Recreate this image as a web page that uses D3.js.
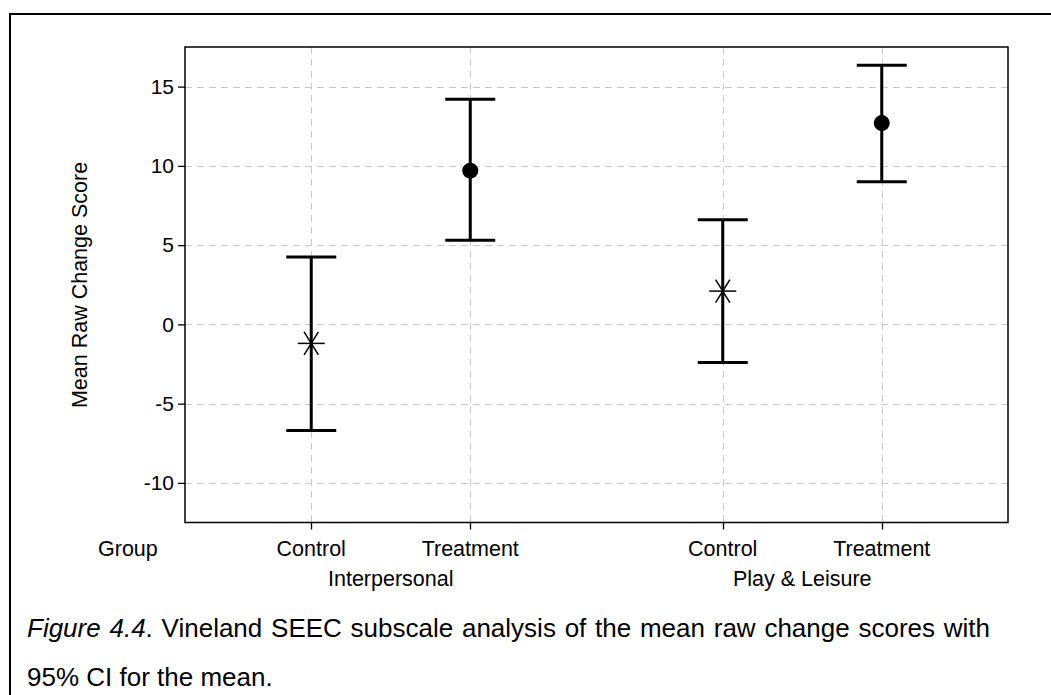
<!DOCTYPE html>
<html>
<head>
<meta charset="utf-8">
<script src="https://cdn.jsdelivr.net/npm/d3@7"></script>
<style>
  html, body { margin: 0; padding: 0; background: #fff; }
  svg { display: block; font-family: "Liberation Sans", Arial, sans-serif; }
</style>
</head>
<body>
<svg id="chart" width="1051" height="695"></svg>
<script>
const subscales = ["Interpersonal", "Play & Leisure"];
const groups = ["Control", "Treatment"];
const means = [-1.2, 9.7, 2.1, 12.7];
const lowers = [-6.7, 5.3, -2.4, 9.0];
const uppers = [4.25, 14.2, 6.6, 16.35];
const yTicks = [-10, -5, 0, 5, 10, 15];
const yTitle = "Mean Raw Change Score";
const xTitle = "Group";
const captionItalic = "Figure 4.4";
const captionLine1 = ". Vineland SEEC subscale analysis of the mean raw change scores with";
const captionLine2 = "95% CI for the mean.";

const data = means.map((m, i) => ({
  subscale: subscales[Math.floor(i / groups.length)],
  group: groups[i % groups.length],
  mean: m, lower: lowers[i], upper: uppers[i]
}));

const svg = d3.select("#chart");
const pL = 185, pR = 1008, pT = 47, pB = 522.5;
const labelSize = 21.5, tickSize = 21;

// outer frame (top and left edges)
svg.append("line").attr("x1", 10).attr("x2", 1051).attr("y1", 14).attr("y2", 14)
  .attr("stroke", "#000").attr("stroke-width", 2);
svg.append("line").attr("x1", 10).attr("x2", 10).attr("y1", 13).attr("y2", 695)
  .attr("stroke", "#000").attr("stroke-width", 2);

const y = d3.scaleLinear().domain([-12.5, 17.5]).range([pB, pT]);
const xOuter = d3.scaleBand().domain(subscales).range([pL, pR]).paddingInner(0).paddingOuter(0);
const xInner = d3.scalePoint().domain(groups).range([0, xOuter.bandwidth()]).padding(0.794);
const xPos = d => xOuter(d.subscale) + xInner(d.group);

// grid
const grid = svg.append("g");
grid.selectAll(".hg").data(yTicks).join("line")
  .attr("x1", pL).attr("x2", pR)
  .attr("y1", d => Math.round(y(d)) + 0.5).attr("y2", d => Math.round(y(d)) + 0.5)
  .attr("stroke", "#c8c8c8").attr("stroke-width", 1).attr("stroke-dasharray", "7,5");
grid.selectAll(".vg").data(data).join("line")
  .attr("x1", d => Math.round(xPos(d)) + 0.5).attr("x2", d => Math.round(xPos(d)) + 0.5)
  .attr("y1", pT).attr("y2", pB)
  .attr("stroke", "#c8c8c8").attr("stroke-width", 1).attr("stroke-dasharray", "7,5");

// plot frame
svg.append("rect").attr("x", pL).attr("y", pT).attr("width", pR - pL).attr("height", pB - pT)
  .attr("fill", "none").attr("stroke", "#000").attr("stroke-width", 1.5);

// y axis
const yAxis = d3.axisLeft(y).tickValues(yTicks).tickSize(7).tickPadding(4).tickFormat(d3.format("d"));
const gy = svg.append("g").attr("transform", `translate(${pL},0)`).call(yAxis);
gy.select(".domain").remove();
gy.selectAll("line").attr("stroke-width", 1.3);
gy.selectAll("text").attr("font-size", tickSize).attr("fill", "#000")
  .attr("font-family", "Liberation Sans, Arial, sans-serif").text(d => d < 0 ? "-" + Math.abs(d) : d);

// x ticks
const gx = svg.append("g");
gx.selectAll("line").data(data).join("line")
  .attr("x1", d => Math.round(xPos(d)) + 0.5).attr("x2", d => Math.round(xPos(d)) + 0.5)
  .attr("y1", pB).attr("y2", pB + 7).attr("stroke", "#000").attr("stroke-width", 1.3);
gx.selectAll("text.cat").data(data).join("text").attr("class", "cat")
  .attr("x", d => xPos(d)).attr("y", 556).attr("text-anchor", "middle")
  .attr("font-size", labelSize).text(d => d.group);
gx.selectAll("text.sub").data(subscales).join("text").attr("class", "sub")
  .attr("x", d => xOuter(d) + xOuter.bandwidth() / 2).attr("y", 586).attr("text-anchor", "middle")
  .attr("font-size", labelSize).text(d => d);
svg.append("text").attr("x", 98).attr("y", 556).attr("font-size", labelSize).text(xTitle);

// y title
svg.append("text").attr("transform", "translate(87,285) rotate(-90)")
  .attr("text-anchor", "middle").attr("font-size", labelSize).text(yTitle);

// error bars
const eb = svg.append("g");
const capW = 25;
eb.selectAll(".v").data(data).join("line")
  .attr("x1", d => xPos(d)).attr("x2", d => xPos(d))
  .attr("y1", d => y(d.lower)).attr("y2", d => y(d.upper))
  .attr("stroke", "#000").attr("stroke-width", 3);
["lower", "upper"].forEach(k => {
  eb.selectAll(".c" + k).data(data).join("line")
    .attr("x1", d => xPos(d) - capW).attr("x2", d => xPos(d) + capW)
    .attr("y1", d => y(d[k])).attr("y2", d => y(d[k]))
    .attr("stroke", "#000").attr("stroke-width", 3);
});

// markers
const ctrl = data.filter(d => d.group === "Control");
const trt = data.filter(d => d.group === "Treatment");
eb.selectAll(".dot").data(trt).join("circle")
  .attr("cx", d => xPos(d)).attr("cy", d => y(d.mean)).attr("r", 8).attr("fill", "#000");
const starR = 13.5;
const angles = [0, 58, 122];
ctrl.forEach(d => {
  angles.forEach(a => {
    const r = a * Math.PI / 180;
    eb.append("line")
      .attr("x1", xPos(d) - starR * Math.cos(r)).attr("x2", xPos(d) + starR * Math.cos(r))
      .attr("y1", y(d.mean) - starR * Math.sin(r)).attr("y2", y(d.mean) + starR * Math.sin(r))
      .attr("stroke", "#000").attr("stroke-width", 1.5);
  });
});

// caption (line 1 justified to the text block width)
const capSize = 26;
const cap = svg.append("text").attr("x", 27).attr("y", 637).attr("font-size", capSize);
cap.append("tspan").attr("font-style", "italic").text(captionItalic);
cap.append("tspan").text(captionLine1);
const natural = cap.node().getComputedTextLength();
const gaps = (captionItalic + captionLine1).split(" ").length - 1;
const extra = (990 - 27 - natural) / gaps;
if (extra > 0 && extra < 6) cap.attr("word-spacing", extra);
svg.append("text").attr("x", 27).attr("y", 686).attr("font-size", capSize).text(captionLine2);
</script>
</body>
</html>
